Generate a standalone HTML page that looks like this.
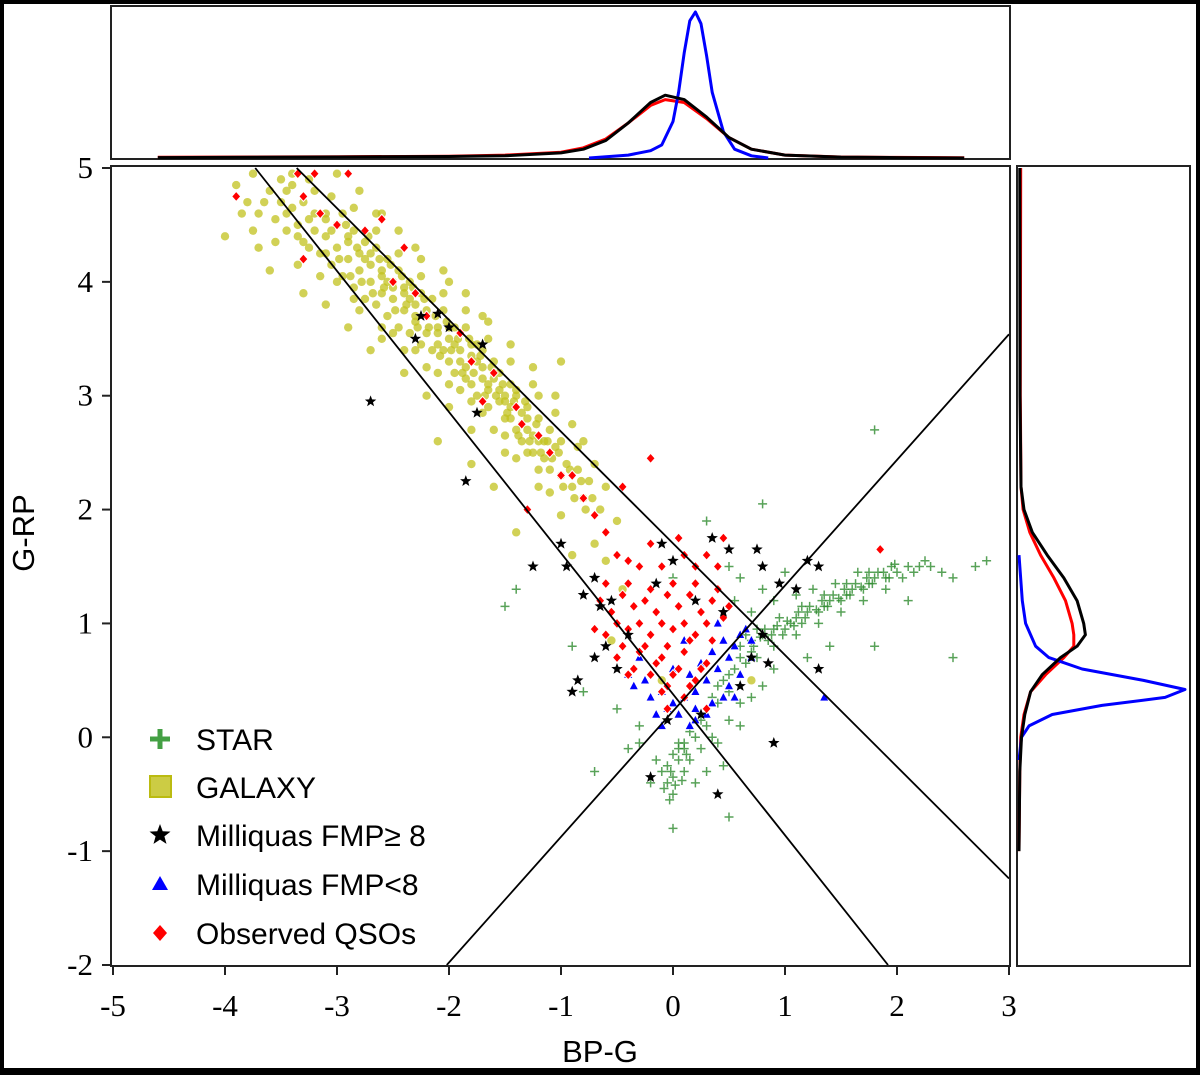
<!DOCTYPE html>
<html><head><meta charset="utf-8"><style>
html,body{margin:0;padding:0;background:#000;}
#wrap{position:relative;width:1200px;height:1075px;background:#000;}
svg{position:absolute;left:0;top:0;}
text{font-family:"Liberation Sans",sans-serif;}
.tk{font-family:"Liberation Serif",serif;font-size:31px;}
</style></head><body>
<div id="wrap">
<svg id="s" width="1200" height="1075" xmlns="http://www.w3.org/2000/svg">
<rect x="4" y="4" width="1192" height="1064" fill="#fff"/>
</svg></div>
<script>
const xTicks=[-5,-4,-3,-2,-1,0,1,2,3];
const yTicks=[5,4,3,2,1,0,-1,-2];
const galaxy=[[-3.9,4.85],[-3.8,4.7],[-3.75,4.95],[-3.7,4.6],[-3.6,4.8],[-3.55,4.55],[-3.5,4.9],[-3.5,4.7],[-3.45,4.45],[-3.4,4.65],[-3.4,4.85],[-3.35,4.5],[-3.3,4.7],[-3.3,4.35],[-3.25,4.55],[-3.2,4.8],[-3.2,4.45],[-3.15,4.25],[-3.1,4.6],[-3.1,4.4],[-3.05,4.15],[-3.0,4.5],[-3.0,4.3],[-2.95,4.05],[-2.95,4.6],[-2.9,4.35],[-2.9,4.2],[-2.85,3.95],[-2.85,4.45],[-2.8,4.25],[-2.8,4.1],[-2.75,3.85],[-2.75,4.35],[-2.7,4.15],[-2.7,4.0],[-2.65,4.3],[-2.65,3.8],[-2.6,4.05],[-2.6,3.9],[-2.55,4.2],[-2.55,3.7],[-2.5,4.0],[-2.5,3.85],[-2.45,4.1],[-2.45,3.6],[-2.4,3.9],[-2.4,3.75],[-2.35,4.0],[-2.35,3.55],[-2.3,3.8],[-2.3,3.65],[-2.25,3.9],[-2.25,3.45],[-2.2,3.7],[-2.2,3.55],[-2.15,3.85],[-2.15,3.4],[-2.1,3.6],[-2.1,3.45],[-2.05,3.75],[-2.0,3.5],[-2.0,3.3],[-1.95,3.6],[-1.95,3.2],[-1.9,3.4],[-1.9,3.55],[-1.85,3.25],[-1.85,3.6],[-1.8,3.35],[-1.8,3.1],[-1.75,3.45],[-1.75,3.0],[-1.7,3.25],[-1.7,3.4],[-1.65,3.1],[-1.65,2.9],[-1.6,3.3],[-1.6,3.15],[-1.55,2.95],[-1.55,3.2],[-1.5,3.0],[-1.5,2.8],[-1.45,3.1],[-1.45,2.9],[-1.4,2.7],[-1.4,3.0],[-1.35,2.85],[-1.35,2.6],[-1.3,2.9],[-1.3,2.7],[-1.25,2.5],[-1.2,2.8],[-1.2,2.6],[-1.15,2.45],[-1.1,2.7],[-1.1,2.35],[-1.05,2.55],[-1.0,2.3],[-1.0,2.6],[-0.95,2.4],[-0.9,2.2],[-0.85,2.35],[-0.8,2.1],[-0.75,2.25],[-4.0,4.4],[-3.7,4.3],[-3.6,4.1],[-3.3,3.9],[-3.1,3.8],[-2.9,3.6],[-2.7,3.4],[-2.6,3.5],[-2.4,3.2],[-2.2,3.0],[-2.0,2.9],[-2.1,2.6],[-1.8,2.7],[-1.5,2.5],[-1.2,2.2],[-1.0,1.95],[-1.4,1.8],[-0.9,1.6],[-0.5,1.9],[-0.6,2.2],[-1.7,3.7],[-2.0,4.0],[-2.3,4.3],[-2.6,4.6],[-3.0,4.95],[-1.2,3.0],[-1.0,3.3],[-0.8,2.6],[-3.4,4.95],[-2.8,4.8],[-0.55,0.85],[-0.1,0.5],[0.7,0.5],[-1.6,2.2],[-1.8,2.4],[-0.7,1.7],[-2.6,4.1],[-2.4,3.95],[-2.2,3.75],[-2.0,3.6],[-1.8,3.45],[-1.6,3.2],[-1.4,3.05],[-2.5,3.95],[-2.3,3.7],[-2.1,3.55],[-1.9,3.3],[-1.7,3.15],[-1.5,2.95],[-1.3,2.8],[-2.7,4.25],[-2.9,4.4],[-3.1,4.55],[-2.05,3.4],[-1.85,3.15],[-1.65,3.05],[-1.45,2.8],[-1.25,2.65],[-2.35,3.85],[-2.55,4.0],[-2.75,4.2],[-1.95,3.45],[-1.75,3.3],[-1.55,3.05],[-1.35,2.75],[-1.15,2.6],
[-3.45,4.6],[-3.35,4.4],[-3.25,4.3],[-3.2,4.6],[-3.1,4.25],[-3.05,4.45],[-2.98,4.2],[-2.92,4.5],[-2.88,4.05],[-2.82,4.3],[-2.78,4.0],[-2.72,4.4],[-2.68,3.9],[-2.62,4.2],[-2.58,3.95],[-2.52,4.15],[-2.48,3.75],[-2.42,4.05],[-2.38,3.8],[-2.32,3.95],[-2.28,3.6],[-2.22,3.85],[-2.18,3.6],[-2.12,3.7],[-2.08,3.35],[-2.02,3.65],[-1.98,3.4],[-1.92,3.5],[-1.88,3.2],[-1.82,3.5],[-1.78,3.2],[-1.72,3.35],[-1.68,3.0],[-1.62,3.25],[-1.58,3.0],[-1.52,3.1],[-1.48,2.85],[-1.42,2.95],[-1.38,2.65],[-1.32,2.95],[-1.28,2.6],[-1.22,2.75],[-1.18,2.5],[-1.12,2.6],[-1.08,2.45],[-1.02,2.5],[-0.98,2.2],[-0.92,2.35],[-0.88,2.1],[-0.82,2.25],[-0.78,2.0],[-0.72,2.1],[-0.65,2.0],[-2.65,4.45],[-2.45,4.25],[-2.25,4.05],[-2.05,3.9],[-1.85,3.75],[-1.65,3.5],[-1.45,3.3],[-1.25,3.1],[-1.05,2.85],[-0.85,2.55],[-3.0,4.0],[-2.8,3.75],[-2.6,3.6],[-2.4,3.4],[-2.2,3.25],[-2.0,3.1],[-1.8,2.95],[-1.6,2.7],[-1.4,2.45],[-1.2,2.35],[-3.55,4.35],[-3.35,4.15],[-3.15,4.05],[-2.85,3.85],[-2.5,3.55],[-2.3,3.4],[-2.1,3.2],[-1.9,3.05],[-1.7,2.85],[-1.5,2.65],[-1.3,2.5],[-1.1,2.15],[-3.65,4.7],[-3.45,4.8],[-3.25,4.9],[-3.05,4.75],[-2.85,4.65],[-2.65,4.6],[-2.45,4.45],[-2.25,4.2],[-2.05,4.1],[-1.85,3.9],[-1.65,3.65],[-1.45,3.45],[-1.25,3.25],[-1.05,3.0],[-0.9,2.75],[-0.7,2.4],[-0.6,1.55],[-0.45,1.3],[-3.75,4.45],[-3.85,4.6]];
const stars=[[0.6,0.8],[0.7,0.85],[0.8,0.9],[0.85,0.85],[0.9,0.95],[1.0,0.95],[1.05,1.0],[1.1,1.05],[1.15,1.0],[1.2,1.1],[1.3,1.1],[1.35,1.15],[1.4,1.2],[1.5,1.2],[1.55,1.25],[1.6,1.3],[1.7,1.3],[1.75,1.35],[1.8,1.4],[1.9,1.4],[2.0,1.45],[2.1,1.5],[2.2,1.5],[2.3,1.5],[0.75,0.95],[0.95,1.05],[1.15,1.15],[1.35,1.25],[1.55,1.35],[1.75,1.45],[1.95,1.5],[0.9,0.8],[1.1,0.9],[1.3,1.0],[1.5,1.1],[1.7,1.2],[1.9,1.3],[0.7,1.1],[0.9,1.2],[1.1,1.25],[1.25,1.3],[1.45,1.35],[1.65,1.45],[0.8,1.3],[1.0,1.45],[0.6,1.4],[0.5,1.5],[0.55,1.2],[2.4,1.45],[2.5,1.4],[2.7,1.5],[2.8,1.55],[1.8,2.7],[0.8,2.05],[0.45,0.5],[0.5,0.4],[0.6,0.3],[0.4,0.3],[0.3,0.1],[0.2,0.0],[0.1,-0.1],[0.0,-0.15],[-0.05,-0.25],[0.0,-0.35],[-0.1,-0.3],[0.05,-0.2],[0.1,-0.3],[-0.05,-0.4],[0.0,-0.5],[0.15,-0.2],[-0.15,-0.2],[0.05,-0.05],[-0.3,0.1],[-0.5,0.25],[-0.8,0.4],[-0.4,-0.1],[-0.7,-0.3],[-0.9,0.8],[-1.4,1.3],[-1.5,1.15],[-0.2,-0.4],[0.3,-0.3],[0.45,-0.25],[0.5,-0.7],[0.0,-0.8],[0.6,0.1],[0.9,0.6],[1.2,0.7],[1.8,0.8],[2.5,0.7],[2.1,1.2],[1.4,0.8],[0.3,1.9],[0.0,1.4],[-0.3,-0.05],[0.2,-0.4],[0.35,0.0],
[0.65,0.9],[0.72,0.8],[0.78,0.88],[0.82,0.95],[0.88,0.9],[0.93,0.98],[0.98,0.9],[1.02,1.02],[1.08,0.98],[1.12,1.1],[1.18,1.05],[1.22,1.15],[1.28,1.12],[1.33,1.2],[1.38,1.15],[1.43,1.25],[1.48,1.22],[1.53,1.3],[1.58,1.25],[1.63,1.35],[1.68,1.32],[1.73,1.4],[1.78,1.35],[1.83,1.45],[1.88,1.45],[1.93,1.4],[1.98,1.52],[2.05,1.4],[2.15,1.45],[2.25,1.55],[0.6,0.7],[0.55,0.6],[0.5,0.55],[0.65,0.65],[0.7,0.75],[0.75,0.7],[0.4,0.45],[0.35,0.35],[0.3,0.25],[0.25,0.15],[0.15,0.05],[0.1,-0.05],[0.05,-0.1],[-0.02,-0.3],[0.02,-0.42],[-0.08,-0.45],[0.08,-0.38],[-0.03,-0.55],[0.12,-0.15],[0.25,-0.1],[0.4,-0.05],[0.5,0.15],[0.7,0.35],[0.8,0.45]];
const qsos=[[-3.9,4.75],[-3.35,4.95],[-3.2,4.95],[-2.9,4.95],[-3.3,4.75],[-3.15,4.6],[-3.3,4.2],[-3.0,4.5],[-2.75,4.45],[-2.6,4.55],[-2.5,4.0],[-2.4,4.3],[-2.3,3.9],[-2.2,3.7],[-1.9,3.55],[-1.8,3.3],[-1.6,3.2],[-1.7,2.95],[-1.4,2.9],[-1.35,2.75],[-1.2,2.65],[-1.1,2.5],[-1.0,2.3],[-0.9,2.3],[-0.8,2.1],[-0.7,1.95],[-0.6,1.8],[-0.45,2.2],[-0.2,2.45],[-1.3,2.0],[-0.5,1.6],[-0.3,1.5],[-0.1,1.5],[0.1,1.6],[0.3,1.6],[-0.6,1.35],[-0.4,1.35],[-0.2,1.3],[0,1.35],[0.2,1.35],[0.4,1.3],[-0.55,1.1],[-0.35,1.15],[-0.15,1.1],[0.05,1.15],[0.25,1.1],[0.45,1.05],[-0.6,0.9],[-0.4,0.95],[-0.2,0.9],[0,0.95],[0.2,0.9],[0.35,0.85],[-0.5,0.7],[-0.3,0.75],[-0.1,0.7],[0.1,0.75],[0.3,0.65],[-0.4,0.55],[-0.2,0.55],[0,0.55],[0.2,0.5],[-0.1,0.4],[0.1,0.35],[-0.45,1.25],[-0.25,1.2],[-0.05,1.25],[0.15,1.25],[0.35,1.2],[-0.5,1.0],[-0.3,1.0],[-0.1,1.0],[0.1,1.0],[0.3,1.0],[-0.45,0.8],[-0.25,0.8],[-0.05,0.8],[0.15,0.85],[-0.35,0.6],[-0.15,0.65],[0.05,0.6],[0.25,0.6],[-0.05,0.45],[0.15,0.45],[-0.2,1.7],[0.05,1.75],[-0.4,1.55],[0.2,1.5],[-0.65,1.2],[-0.7,0.95],[0.5,1.15],[0.4,1.5],[0.3,0.25],[-0.05,0.25],[1.85,1.65],[0.45,1.75]];
const fmpHigh=[[-2.7,2.95],[-2.25,3.7],[-2.1,3.72],[-2.3,3.5],[-2.0,3.6],[-1.7,3.45],[-1.75,2.85],[-1.85,2.25],[-1.25,1.5],[-1.0,1.7],[-0.95,1.5],[-0.7,1.4],[-0.8,1.25],[-0.65,1.15],[-0.55,1.2],[-0.6,0.8],[-0.7,0.7],[-0.9,0.4],[-0.85,0.5],[-0.5,0.6],[-0.4,0.9],[-0.1,1.7],[0.0,1.55],[-0.15,1.35],[0.35,1.75],[0.5,1.65],[0.75,1.65],[0.8,1.5],[0.2,1.2],[0.45,1.1],[0.95,1.35],[1.1,1.3],[1.3,1.5],[1.2,1.55],[0.8,0.9],[0.7,0.7],[0.85,0.65],[1.3,0.6],[0.6,0.45],[0.9,-0.05],[-0.2,-0.35],[0.4,-0.5],[0.25,0.2],[-0.05,0.15]];
const fmpLow=[[-0.4,0.55],[-0.35,0.45],[-0.2,0.35],[-0.1,0.4],[0.0,0.3],[0.1,0.35],[0.2,0.4],[0.3,0.5],[0.4,0.6],[0.5,0.7],[0.55,0.8],[0.6,0.9],[0.65,0.95],[0.45,0.85],[0.35,0.75],[0.25,0.65],[0.15,0.55],[-0.25,0.5],[-0.05,0.25],[0.05,0.2],[0.2,0.25],[0.35,0.3],[0.5,0.45],[0.6,0.55],[0.7,0.7],[0.3,0.2],[0.15,0.1],[-0.15,0.2],[-0.3,0.7],[0.1,0.85],[0.4,1.0],[-0.1,0.1],[0.7,0.85],[1.35,0.35],[0.0,0.6],[0.2,0.15],[0.45,0.35],[0.55,0.35]];
const cutLines=[[[-3.73,5],[1.92,-2]],[[-3.36,5],[3,-1.24]],[[-2.02,-2],[3,3.54]]];
// top KDE
const topX=[-4.6,-3,-2,-1.5,-1,-0.8,-0.6,-0.4,-0.2,-0.07,0.1,0.3,0.5,0.7,1,1.5,2,2.6];
const topBlack=[0.003,0.007,0.01,0.015,0.035,0.06,0.12,0.24,0.38,0.43,0.4,0.28,0.14,0.06,0.02,0.006,0.003,0];
const topRed=[0.005,0.008,0.012,0.02,0.04,0.07,0.13,0.24,0.36,0.4,0.38,0.27,0.14,0.06,0.02,0.007,0.004,0.002];
const topBlueX=[-0.75,-0.4,-0.2,-0.1,0,0.05,0.1,0.15,0.2,0.25,0.3,0.35,0.45,0.55,0.7,0.85];
const topBlue=[0,0.02,0.05,0.09,0.25,0.45,0.72,0.94,1.0,0.92,0.7,0.45,0.18,0.06,0.015,0];
// right KDE
const rightY=[5,3,2.2,2,1.8,1.6,1.4,1.2,1.0,0.9,0.8,0.7,0.55,0.4,0.2,0,-0.3,-1];
const rightBlack=[0.005,0.006,0.012,0.03,0.08,0.17,0.27,0.35,0.39,0.4,0.35,0.25,0.14,0.07,0.035,0.015,0.005,0];
const rightRed=[0.01,0.008,0.012,0.025,0.065,0.13,0.21,0.28,0.32,0.33,0.33,0.27,0.16,0.07,0.03,0.01,0.005,0];
const rightBlueY=[1.6,1.2,1.0,0.8,0.7,0.6,0.5,0.42,0.35,0.28,0.2,0.1,0,-0.2];
const rightBlue=[0,0.02,0.04,0.1,0.18,0.38,0.75,1.0,0.88,0.5,0.2,0.06,0.015,0];

const NS='http://www.w3.org/2000/svg';
const svg=document.getElementById('s');
const X0=113,X1=1009,Y0=168,Y1=965;
const sx=v=>X0+(v+5)/8*(X1-X0);
const sy=v=>Y0+(5-v)/7*(Y1-Y0);
const topBase=158,topScale=146;
const rBase=1019,rScale=166;
function el(tag,attrs,parent){const e=document.createElementNS(NS,tag);for(const k in attrs)e.setAttribute(k,attrs[k]);(parent||svg).appendChild(e);return e;}
let p=el('rect',{x:111,y:6,width:899,height:153,fill:'#fff',stroke:'#222','stroke-width':2});


p=el('rect',{x:1017,y:166,width:173,height:800,fill:'#fff',stroke:'#222','stroke-width':2});


p=el('rect',{x:111,y:166,width:899,height:800,fill:'#fff',stroke:'#222','stroke-width':2});


const gClip=el('clipPath',{id:'cp'});el('rect',{x:112,y:167,width:897,height:798},gClip);
const g=el('g',{'clip-path':'url(#cp)'});


galaxy.forEach(d=>{const c=el('circle',{cx:sx(d[0]),cy:sy(d[1]),r:4.2,fill:'#c2c21e','fill-opacity':0.75},g);

});
stars.forEach(d=>{const x=sx(d[0]),y=sy(d[1]);const e=el('path',{d:`M${x-4.5},${y}H${x+4.5}M${x},${y-4.5}V${y+4.5}`,stroke:'#2e8b2e','stroke-width':1.5,'stroke-opacity':0.8},g);

});
fmpLow.forEach(d=>{const x=sx(d[0]),y=sy(d[1]);const e=el('path',{d:`M${x},${y-5}L${x+4.5},${y+3.5}L${x-4.5},${y+3.5}Z`,fill:'#0000ff',stroke:'#fff','stroke-width':0.6},g);

});
qsos.forEach(d=>{const x=sx(d[0]),y=sy(d[1]);const e=el('path',{d:`M${x},${y-5}L${x+4.5},${y}L${x},${y+5}L${x-4.5},${y}Z`,fill:'#ff0000',stroke:'#fff','stroke-width':1},g);

});
function starPath(x,y,R){let s='';for(let i=0;i<10;i++){const r=i%2?R*0.42:R;const a=-Math.PI/2+i*Math.PI/5;s+=(i?'L':'M')+(x+r*Math.cos(a)).toFixed(1)+','+(y+r*Math.sin(a)).toFixed(1);}return s+'Z';}
fmpHigh.forEach(d=>{const e=el('path',{d:starPath(sx(d[0]),sy(d[1]),6),fill:'#000'},g);

});
cutLines.forEach((l,i)=>{const e=el('line',{x1:sx(l[0][0]),y1:sy(l[0][1]),x2:sx(l[1][0]),y2:sy(l[1][1]),stroke:'#000','stroke-width':1.8},g);

});
xTicks.forEach(v=>{const x=sx(v);el('line',{x1:x,y1:966,x2:x,y2:975,stroke:'#222','stroke-width':2});
const t=el('text',{x:x,y:1016,'text-anchor':'middle',class:'tk'});t.textContent=v;

});
yTicks.forEach(v=>{const y=sy(v);el('line',{x1:102,y1:y,x2:111,y2:y,stroke:'#222','stroke-width':2});
const t=el('text',{x:93,y:y+10,'text-anchor':'end',class:'tk'});t.textContent=v;

});
let t=el('text',{x:600,y:1062,'text-anchor':'middle','font-size':31});t.textContent='BP-G';


t=el('text',{x:34,y:533,'text-anchor':'middle','font-size':31,transform:'rotate(-90 34 533)'});t.textContent='G-RP';


function topLine(xs,ys,col,name){const pts=xs.map((v,i)=>sx(v).toFixed(1)+','+(topBase-ys[i]*topScale).toFixed(1)).join(' ');
const e=el('polyline',{points:pts,fill:'none',stroke:col,'stroke-width':3,'stroke-linejoin':'round'});

}
topLine(topX,topRed,'#ff0000','top-kde-red');
topLine(topBlueX,topBlue,'#0000ff','top-kde-blue');
topLine(topX,topBlack,'#000','top-kde-black');
function rightLine(ys,vs,col,name){const pts=ys.map((v,i)=>(rBase+vs[i]*rScale).toFixed(1)+','+sy(v).toFixed(1)).join(' ');
const e=el('polyline',{points:pts,fill:'none',stroke:col,'stroke-width':3,'stroke-linejoin':'round'});

}
rightLine(rightY,rightRed,'#ff0000','right-kde-red');
rightLine(rightBlueY,rightBlue,'#0000ff','right-kde-blue');
rightLine(rightY,rightBlack,'#000','right-kde-black');
const lg=el('g',{});


const labels=['STAR','GALAXY','Milliquas FMP\u2265 8','Milliquas FMP<8','Observed QSOs'];
const ly=[739,787,835,884,933];
labels.forEach((s,i)=>{const y=ly[i],x=160;
if(i==0)el('path',{d:`M${x-10},${y}H${x+10}M${x},${y-10}V${y+10}`,stroke:'#44a044','stroke-width':5},lg);
if(i==1)el('rect',{x:x-10,y:y-11,width:21,height:21,fill:'#cccc44',stroke:'#bbbb11','stroke-width':2},lg);
if(i==2)el('path',{d:starPath(x,y,11),fill:'#000'},lg);
if(i==3)el('path',{d:`M${x},${y-8}L${x+8},${y+6}L${x-8},${y+6}Z`,fill:'#0000ff'},lg);
if(i==4)el('path',{d:`M${x},${y-8}L${x+7},${y}L${x},${y+8}L${x-7},${y}Z`,fill:'#ff0000'},lg);
const tt=el('text',{x:196,y:y+11,'font-size':30},lg);tt.textContent=s;

});
</script>
</body></html>
